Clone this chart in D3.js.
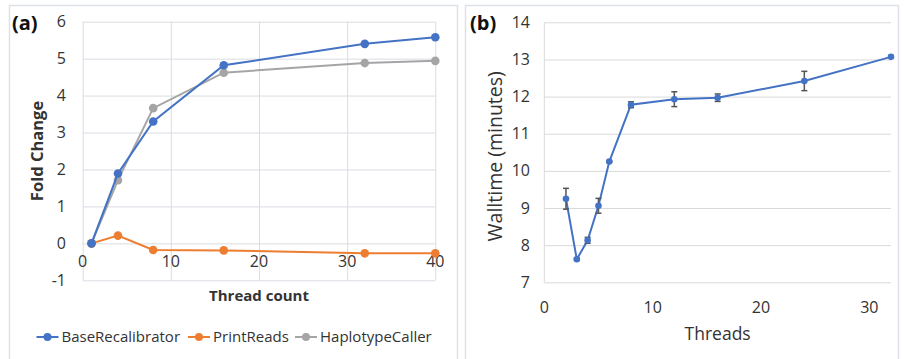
<!DOCTYPE html>
<html>
<head>
<meta charset="utf-8">
<script src="https://cdn.jsdelivr.net/npm/d3@7"></script>
<style>
  body { margin: 0; background: #fff; }
  svg text { font-family: "Open Sans", "Noto Sans", sans-serif; fill: #333; }
</style>
</head>
<body>
<div id="chart"></div>
<script>
// panel (a) data
const threadsA = [1, 4, 8, 16, 32, 40];
const baseRecal = [0, 1.89, 3.3, 4.82, 5.4, 5.58];
const printReads = [0, 0.21, -0.18, -0.19, -0.27, -0.27];
const haploCaller = [0, 1.71, 3.66, 4.62, 4.88, 4.94];
const seriesNames = ["BaseRecalibrator", "PrintReads", "HaplotypeCaller"];
const seriesColors = ["#4472c4", "#ed7d31", "#a5a5a5"];
const xTicksA = [0, 10, 20, 30, 40];
const yTicksA = [-1, 0, 1, 2, 3, 4, 5, 6];

// panel (b) data
const threadsB = [2, 3, 4, 5, 6, 8, 12, 16, 24, 32];
const walltime = [9.25, 7.62, 8.13, 9.06, 10.25, 11.78, 11.93, 11.97, 12.42, 13.07];
const walltimeErr = [0.28, 0.03, 0.08, 0.2, 0.02, 0.08, 0.2, 0.1, 0.26, 0];
const xTicksB = [0, 10, 20, 30];
const yTicksB = [7, 8, 9, 10, 11, 12, 13, 14];

const W = 904, H = 359;
const svg = d3.select("#chart").append("svg").attr("width", W).attr("height", H);

// panel frames
svg.append("rect").attr("x", 9.5).attr("y", 5.5).attr("width", 448).attr("height", 360)
   .attr("fill", "none").attr("stroke", "#dce1e8").attr("stroke-width", 1.5);
svg.append("rect").attr("x", 465.5).attr("y", 5.5).attr("width", 433).attr("height", 360)
   .attr("fill", "none").attr("stroke", "#dce1e8").attr("stroke-width", 1.5);

// ---------- panel (a)
const xA = d3.scaleLinear().domain([0, 40]).range([82.7, 435.3]);
const yA = d3.scaleLinear().domain([-1, 6]).range([280.3, 21.7]);
const gA = svg.append("g");

// gridlines
gA.append("g").attr("transform", `translate(${xA(0)},0)`)
  .call(d3.axisLeft(yA).tickValues(yTicksA).tickSize(-(xA(40) - xA(0))).tickFormat(""))
  .call(g => g.select(".domain").remove())
  .call(g => g.selectAll("line").attr("stroke", "#d9dce3"));
gA.append("g").attr("transform", `translate(0,${yA(-1)})`)
  .call(d3.axisBottom(xA).tickValues(xTicksA).tickSize(-(yA(-1) - yA(6))).tickFormat(""))
  .call(g => g.select(".domain").remove())
  .call(g => g.selectAll("line").attr("stroke", "#d9dce3"));

// tick labels
gA.selectAll(".ylab").data(yTicksA).join("text")
  .attr("x", 66).attr("y", d => yA(d)).attr("dy", "0.35em").attr("text-anchor", "end")
  .style("font-size", "16px").text(d => d);
gA.selectAll(".xlab").data(xTicksA).join("text")
  .attr("x", d => xA(d)).attr("y", yA(0) + 24).attr("text-anchor", "middle")
  .style("font-size", "16px").text(d => d);

// axis titles
gA.append("text").attr("transform", `translate(43,${(yA(6) + yA(-1)) / 2}) rotate(-90)`)
  .attr("text-anchor", "middle").style("font-size", "16.5px").style("font-weight", "bold").text("Fold Change");
gA.append("text").attr("x", (xA(0) + xA(40)) / 2).attr("y", 301).attr("text-anchor", "middle")
  .style("font-size", "15px").style("font-weight", "bold").text("Thread count");
gA.append("text").attr("x", 12).attr("y", 30).style("font-size", "20px").style("font-weight", "bold").style("fill", "#111").text("(a)");

// lines
const seriesA = [baseRecal, printReads, haploCaller];
const lineA = d3.line().x((d, i) => xA(threadsA[i])).y(d => yA(d));
[2, 1, 0].forEach(k => {
  gA.append("path").datum(seriesA[k]).attr("d", lineA).attr("fill", "none")
    .attr("stroke", seriesColors[k]).attr("stroke-width", 2);
  gA.selectAll(".pt" + k).data(seriesA[k]).join("circle")
    .attr("cx", (d, i) => xA(threadsA[i])).attr("cy", d => yA(d)).attr("r", 4.3)
    .attr("fill", seriesColors[k]);
});

// legend
const legX = [36.5, 188, 295];
const leg = gA.selectAll(".leg").data(seriesNames).join("g")
  .attr("transform", (d, i) => `translate(${legX[i]},337)`);
leg.append("line").attr("x1", 0).attr("x2", 22).attr("stroke", (d, i) => seriesColors[i]).attr("stroke-width", 2);
leg.append("circle").attr("cx", 11).attr("r", 4).attr("fill", (d, i) => seriesColors[i]);
leg.append("text").attr("x", 25).attr("dy", "0.35em").style("font-size", "15px").text(d => d);

// ---------- panel (b)
const xB = d3.scaleLinear().domain([0, 32]).range([544.3, 891]);
const yB = d3.scaleLinear().domain([7, 14]).range([282.3, 22.3]);
const gB = svg.append("g");

gB.append("g").attr("transform", `translate(${xB(0)},0)`)
  .call(d3.axisLeft(yB).tickValues(yTicksB).tickSize(-(xB(32) - xB(0))).tickFormat(""))
  .call(g => g.select(".domain").remove())
  .call(g => g.selectAll("line").attr("stroke", "#d9d9d9"));
gB.append("line").attr("x1", xB(0)).attr("x2", xB(0)).attr("y1", yB(14)).attr("y2", yB(7))
  .attr("stroke", "#d9d9d9");

gB.selectAll(".ylab").data(yTicksB).join("text")
  .attr("x", 530).attr("y", d => yB(d)).attr("dy", "0.35em").attr("text-anchor", "end")
  .style("font-size", "16px").text(d => d);
gB.selectAll(".xlab").data(xTicksB).join("text")
  .attr("x", d => xB(d)).attr("y", 307).attr("dy", "0.35em").attr("text-anchor", "middle")
  .style("font-size", "16px").text(d => d);

gB.append("text").attr("transform", `translate(502,${(yB(14) + yB(7)) / 2 + 4}) rotate(-90)`)
  .attr("text-anchor", "middle").style("font-size", "19.5px").text("Walltime (minutes)");
gB.append("text").attr("x", (xB(0) + xB(32)) / 2).attr("y", 340).attr("text-anchor", "middle")
  .style("font-size", "17.5px").text("Threads");
gB.append("text").attr("x", 470).attr("y", 30).style("font-size", "20px").style("font-weight", "bold").style("fill", "#111").text("(b)");

gB.append("path").datum(walltime)
  .attr("d", d3.line().x((d, i) => xB(threadsB[i])).y(d => yB(d)))
  .attr("fill", "none").attr("stroke", "#4472c4").attr("stroke-width", 2);

// error bars
const eb = gB.selectAll(".err").data(walltime).join("g");
eb.append("line").attr("x1", (d, i) => xB(threadsB[i])).attr("x2", (d, i) => xB(threadsB[i]))
  .attr("y1", (d, i) => yB(d + walltimeErr[i])).attr("y2", (d, i) => yB(d - walltimeErr[i]))
  .attr("stroke", "#555").attr("stroke-width", 1.5);
[1, -1].forEach(s => {
  eb.append("line").attr("x1", (d, i) => xB(threadsB[i]) - 3).attr("x2", (d, i) => xB(threadsB[i]) + 3)
    .attr("y1", (d, i) => yB(d + s * walltimeErr[i])).attr("y2", (d, i) => yB(d + s * walltimeErr[i]))
    .attr("stroke", "#555").attr("stroke-width", 1.5);
});

gB.selectAll(".pt").data(walltime).join("circle")
  .attr("cx", (d, i) => xB(threadsB[i])).attr("cy", d => yB(d)).attr("r", 3.3).attr("fill", "#4472c4");
</script>
</body>
</html>
